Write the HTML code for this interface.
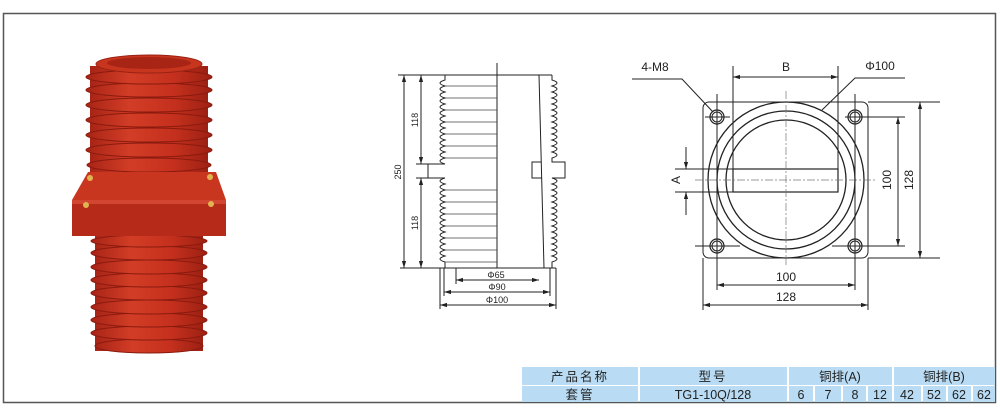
<!DOCTYPE html>
<html><head><meta charset="utf-8"><style>
html,body{margin:0;padding:0;background:#fff;}
svg{display:block;}
text{font-family:"Liberation Sans","Noto Sans CJK SC",sans-serif;fill:#222;}
</style></head><body>
<svg width="1000" height="415" viewBox="0 0 1000 415" xmlns="http://www.w3.org/2000/svg">
<defs>
<marker id="ar" viewBox="0 0 10 10" refX="10" refY="5" markerWidth="7" markerHeight="7" orient="auto-start-reverse"><path d="M0,2 L10,5 L0,8z" fill="#222"/></marker>
<linearGradient id="rg" x1="0" x2="1"><stop offset="0" stop-color="#a82416"/><stop offset=".35" stop-color="#d23d26"/><stop offset=".7" stop-color="#c4301d"/><stop offset="1" stop-color="#9c2013"/></linearGradient>
</defs>
<rect x="3.5" y="13.5" width="992" height="389" fill="none" stroke="#555" stroke-width="1.5"/>

<!-- photo -->
<g>
<rect x="90" y="66" width="118" height="110" fill="url(#rg)"/>
<rect x="95" y="236" width="108" height="115" fill="url(#rg)"/>
<g fill="url(#rg)" stroke="#8a1a0f" stroke-width="1">
<ellipse cx="149" cy="165" rx="62" ry="7"/><ellipse cx="149" cy="150" rx="63" ry="7"/><ellipse cx="149" cy="135" rx="63" ry="7"/><ellipse cx="149" cy="120" rx="63" ry="7"/><ellipse cx="149" cy="105" rx="63" ry="7"/><ellipse cx="149" cy="90" rx="63" ry="7"/><ellipse cx="149" cy="77" rx="63" ry="7"/>
</g>
<ellipse cx="149" cy="64" rx="53" ry="9" fill="#c7351f" stroke="#9a2214"/>
<ellipse cx="149" cy="63" rx="42" ry="6" fill="#a82515"/>
<g fill="url(#rg)" stroke="#8a1a0f" stroke-width="1">
<ellipse cx="149" cy="346" rx="54" ry="7"/><ellipse cx="149" cy="333" rx="58" ry="7"/><ellipse cx="149" cy="320" rx="58" ry="7"/><ellipse cx="149" cy="307" rx="58" ry="7"/><ellipse cx="149" cy="293" rx="58" ry="7"/><ellipse cx="149" cy="280" rx="58" ry="7"/><ellipse cx="149" cy="267" rx="58" ry="7"/><ellipse cx="149" cy="253" rx="58" ry="7"/><ellipse cx="149" cy="241" rx="58" ry="6"/>
</g>
<polygon points="88,172 216,172 226,200 72,200" fill="#c93620"/>
<rect x="72" y="200" width="154" height="36" fill="#b52a19"/>
<rect x="72" y="200" width="154" height="4" fill="#d24530"/>
<g fill="#e0b550"><circle cx="90" cy="178" r="3"/><circle cx="210" cy="177" r="3"/><circle cx="86" cy="205" r="3"/><circle cx="211" cy="204" r="3"/></g>
</g>

<!-- side drawing -->
<g stroke="#222" stroke-width="1" fill="none">
<line x1="497" y1="63" x2="497" y2="268"/>
<line x1="445" y1="75" x2="552" y2="75"/>
<line x1="398" y1="75" x2="445" y2="75"/>
<line x1="400" y1="268" x2="556" y2="268"/>
<line x1="539" y1="75" x2="544" y2="268"/>
<path d="M445,75 L445,80 q-10,3 0,6 q-10,3 0,6 q-10,3 0,6 q-10,3 0,6 q-10,3 0,6 q-10,3 0,6 q-10,3 0,6 q-10,3 0,6 q-10,3 0,6 q-10,3 0,6 q-10,3 0,6 q-10,3 0,6 q-10,3 0,6 q-10,3 0,6 L445,164 L428,164 L428,178 L445,178 q-10,3 0,6 q-10,3 0,6 q-10,3 0,6 q-10,3 0,6 q-10,3 0,6 q-10,3 0,6 q-10,3 0,6 q-10,3 0,6 q-10,3 0,6 q-10,3 0,6 q-10,3 0,6 q-10,3 0,6 q-10,3 0,6 q-10,3 0,6 L445,268"/>
<path d="M552,75 L552,80 q10,3 0,6 q10,3 0,6 q10,3 0,6 q10,3 0,6 q10,3 0,6 q10,3 0,6 q10,3 0,6 q10,3 0,6 q10,3 0,6 q10,3 0,6 q10,3 0,6 q10,3 0,6 q10,3 0,6 L552,162 L565,162 L565,178 L552,178 q10,3 0,6 q10,3 0,6 q10,3 0,6 q10,3 0,6 q10,3 0,6 q10,3 0,6 q10,3 0,6 q10,3 0,6 q10,3 0,6 q10,3 0,6 q10,3 0,6 q10,3 0,6 q10,3 0,6 q10,3 0,6 L552,268"/>
<path d="M541,162 L532,162 L532,178 L542,178"/>
<g stroke="#444" stroke-width=".8">
<line x1="445" y1="86" x2="497" y2="86"/><line x1="445" y1="98" x2="497" y2="98"/><line x1="445" y1="110" x2="497" y2="110"/><line x1="445" y1="122" x2="497" y2="122"/><line x1="445" y1="134" x2="497" y2="134"/><line x1="445" y1="146" x2="497" y2="146"/><line x1="445" y1="158" x2="497" y2="158"/>
<line x1="445" y1="190" x2="497" y2="190"/><line x1="445" y1="202" x2="497" y2="202"/><line x1="445" y1="214" x2="497" y2="214"/><line x1="445" y1="226" x2="497" y2="226"/><line x1="445" y1="238" x2="497" y2="238"/><line x1="445" y1="250" x2="497" y2="250"/><line x1="445" y1="262" x2="497" y2="262"/>
</g>
<line x1="404" y1="75" x2="404" y2="268" marker-start="url(#ar)" marker-end="url(#ar)"/>
<line x1="421" y1="75" x2="421" y2="164" marker-start="url(#ar)" marker-end="url(#ar)"/>
<line x1="421" y1="178" x2="421" y2="268" marker-start="url(#ar)" marker-end="url(#ar)"/>
<line x1="416" y1="164" x2="428" y2="164"/><line x1="416" y1="178" x2="428" y2="178"/>
<line x1="456" y1="268" x2="456" y2="284"/><line x1="444" y1="268" x2="444" y2="296"/><line x1="440" y1="268" x2="440" y2="309"/>
<line x1="550" y1="268" x2="550" y2="296"/><line x1="556" y1="268" x2="556" y2="309"/>
<line x1="456" y1="280" x2="539" y2="280" marker-start="url(#ar)" marker-end="url(#ar)"/>
<line x1="444" y1="292" x2="550" y2="292" marker-start="url(#ar)" marker-end="url(#ar)"/>
<line x1="440" y1="305" x2="556" y2="305" marker-start="url(#ar)" marker-end="url(#ar)"/>
</g>
<g font-size="9" text-anchor="middle">
<text x="496" y="278">Φ65</text><text x="497" y="290">Φ90</text><text x="497" y="303">Φ100</text>
<text transform="translate(401,172) rotate(-90)">250</text>
<text transform="translate(418,120) rotate(-90)">118</text>
<text transform="translate(418,223) rotate(-90)">118</text>
</g>

<!-- top view -->
<g stroke="#222" stroke-width="1" fill="none">
<rect x="703" y="102" width="165" height="156" rx="6"/>
<circle cx="786" cy="180" r="78" stroke-width="1.3"/>
<circle cx="786" cy="180" r="69" stroke-width="1.3"/>
<circle cx="786" cy="180" r="60" stroke-width="1.3"/>
<rect x="733" y="169" width="105" height="23" stroke-width="1.2"/>
<g stroke-width="1.2"><circle cx="717" cy="117" r="7"/><circle cx="855" cy="117" r="7"/><circle cx="717" cy="246" r="7"/><circle cx="855" cy="246" r="7"/></g>
<g><circle cx="717" cy="117" r="5"/><circle cx="855" cy="117" r="5"/><circle cx="717" cy="246" r="5"/><circle cx="855" cy="246" r="5"/></g>
<g stroke="#777" stroke-width=".7" stroke-dasharray="8,2,2,2">
<line x1="786" y1="91" x2="786" y2="265"/><line x1="695" y1="180" x2="876" y2="180"/>
</g>
<line x1="733" y1="66" x2="733" y2="169"/><line x1="838" y1="66" x2="838" y2="169"/>
<line x1="733" y1="77" x2="838" y2="77" marker-start="url(#ar)" marker-end="url(#ar)"/>
<polyline points="632,79 682,79 713,112"/>
<polyline points="822,110 855,78 905,78"/>
<line x1="675" y1="169" x2="733" y2="169"/><line x1="675" y1="192" x2="733" y2="192"/>
<line x1="686" y1="147" x2="686" y2="169" marker-end="url(#ar)"/>
<line x1="686" y1="215" x2="686" y2="192" marker-end="url(#ar)"/>
<line x1="705" y1="117" x2="730" y2="117"/><line x1="845" y1="117" x2="905" y2="117"/>
<line x1="695" y1="246" x2="740" y2="246"/><line x1="832" y1="246" x2="905" y2="246"/>
<line x1="868" y1="102" x2="940" y2="102"/><line x1="868" y1="258" x2="940" y2="258"/>
<line x1="898" y1="117" x2="898" y2="246" marker-start="url(#ar)" marker-end="url(#ar)"/>
<line x1="920" y1="102" x2="920" y2="258" marker-start="url(#ar)" marker-end="url(#ar)"/>
<line x1="717" y1="94" x2="717" y2="290"/><line x1="855" y1="94" x2="855" y2="290"/>
<line x1="703" y1="258" x2="703" y2="310"/><line x1="868" y1="258" x2="868" y2="310"/>
<line x1="717" y1="285" x2="855" y2="285" marker-start="url(#ar)" marker-end="url(#ar)"/>
<line x1="703" y1="305" x2="868" y2="305" marker-start="url(#ar)" marker-end="url(#ar)"/>
</g>
<g font-size="12" text-anchor="middle">
<text x="786" y="71">B</text>
<text x="655" y="71">4-M8</text>
<text x="880" y="70">Φ100</text>
<text x="786" y="281">100</text>
<text x="786" y="301">128</text>
<text transform="translate(680,180) rotate(-90)">A</text>
<text transform="translate(891,180) rotate(-90)">100</text>
<text transform="translate(913,180) rotate(-90)">128</text>
</g>

<!-- table -->
<g fill="#b9dcf4">
<rect x="522" y="367" width="116" height="18"/><rect x="640" y="367" width="147" height="18"/><rect x="789" y="367" width="103" height="18"/><rect x="894" y="367" width="101" height="18"/>
<rect x="522" y="386" width="116" height="16"/><rect x="640" y="386" width="147" height="16"/>
<rect x="789" y="386" width="24" height="16"/><rect x="815" y="386" width="26" height="16"/><rect x="843" y="386" width="23" height="16"/><rect x="868" y="386" width="24" height="16"/>
<rect x="894" y="386" width="27" height="16"/><rect x="923" y="386" width="23" height="16"/><rect x="948" y="386" width="23" height="16"/><rect x="973" y="386" width="22" height="16"/>
</g>
<g font-size="12.5" text-anchor="middle">
<text x="580" y="381" letter-spacing="2">产品名称</text>
<text x="713" y="381" letter-spacing="2">型号</text>
<text x="840" y="381">铜排(A)</text>
<text x="944" y="381">铜排(B)</text>
<text x="580" y="399" letter-spacing="2">套管</text>
<text x="713" y="399">TG1-10Q/128</text>
<text x="801" y="399">6</text><text x="828" y="399">7</text><text x="855" y="399">8</text><text x="880" y="399">12</text>
<text x="907" y="399">42</text><text x="934" y="399">52</text><text x="959" y="399">62</text><text x="984" y="399">62</text>
</g>
</svg>
</body></html>
